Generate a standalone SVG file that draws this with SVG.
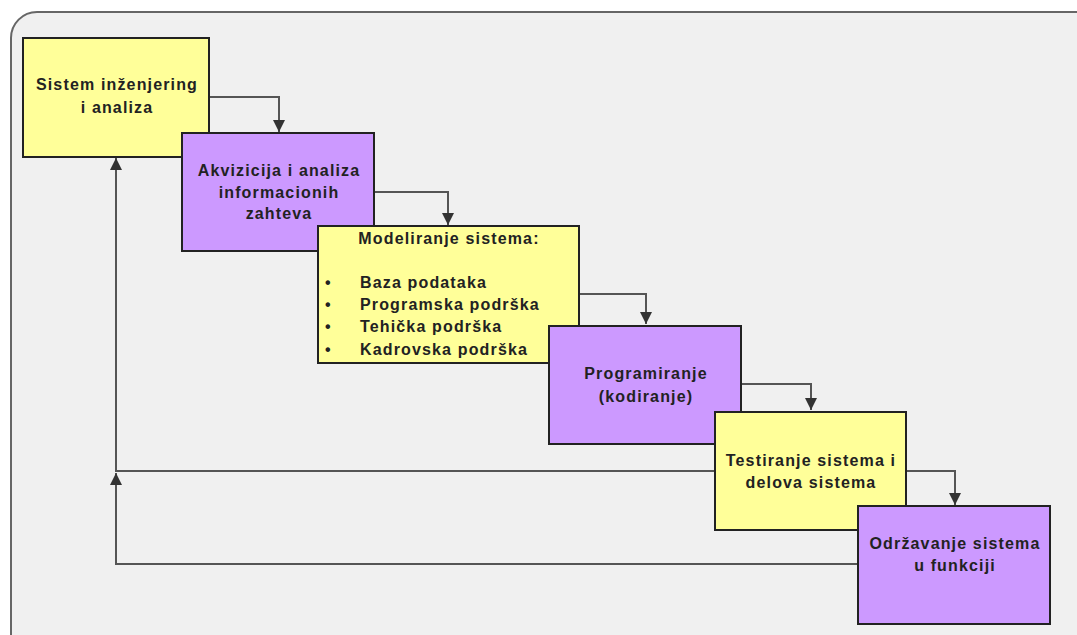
<svg xmlns="http://www.w3.org/2000/svg" width="1077" height="635" viewBox="0 0 1077 635">
  <style>
    .frame { fill: #f0f0f0; stroke: #666666; stroke-width: 2; }
    .yellow { fill: #ffff99; stroke: #222222; stroke-width: 2; }
    .purple { fill: #cc99ff; stroke: #222222; stroke-width: 2; }
    .lbl { font-family: "Liberation Sans", Arial, sans-serif; font-weight: bold; font-size: 16px; letter-spacing: 1.15px; fill: #222222; }
    .mid { text-anchor: middle; }
    .wire { fill: none; stroke: #555555; stroke-width: 2; }
  </style>
  <defs>
    <marker id="arrow" viewBox="0 0 10 10" refX="10" refY="5" markerWidth="12" markerHeight="12" markerUnits="userSpaceOnUse" orient="auto">
      <path d="M0,0 L10,5 L0,10 z" fill="#333333"/>
    </marker>
  </defs>

  <!-- background panel -->
  <rect class="frame" x="11" y="12" width="1090" height="650" rx="26"/>

  <!-- connectors -->
  <g id="connectors">
    <path class="wire" d="M209,97 H279 V132" marker-end="url(#arrow)"/>
    <path class="wire" d="M374,192 H448 V225" marker-end="url(#arrow)"/>
    <path class="wire" d="M579,294 H646 V324" marker-end="url(#arrow)"/>
    <path class="wire" d="M741,384 H811 V410" marker-end="url(#arrow)"/>
    <path class="wire" d="M906,471 H955 V505" marker-end="url(#arrow)"/>
    <path class="wire" d="M715,471 H116 V158" marker-end="url(#arrow)"/>
    <path class="wire" d="M858,564 H116 V473" marker-end="url(#arrow)"/>
  </g>

  <g id="n1">
    <rect class="yellow" x="23" y="38" width="186" height="119"/>
    <text class="lbl mid" x="117" y="90">Sistem inženjering</text>
    <text class="lbl mid" x="117" y="113">i analiza</text>
  </g>

  <g id="n2">
    <rect class="purple" x="182" y="133" width="192" height="118"/>
    <text class="lbl mid" x="279" y="176">Akvizicija i analiza</text>
    <text class="lbl mid" x="279" y="198">informacionih</text>
    <text class="lbl mid" x="279" y="219">zahteva</text>
  </g>

  <g id="n3">
    <rect class="yellow" x="318" y="226" width="261" height="137"/>
    <text class="lbl mid" x="449" y="244">Modeliranje sistema:</text>
    <text class="lbl" x="325" y="288">•</text>
    <text class="lbl" x="360" y="288">Baza podataka</text>
    <text class="lbl" x="325" y="310">•</text>
    <text class="lbl" x="360" y="310">Programska podrška</text>
    <text class="lbl" x="325" y="332">•</text>
    <text class="lbl" x="360" y="332">Tehička podrška</text>
    <text class="lbl" x="325" y="355">•</text>
    <text class="lbl" x="360" y="355">Kadrovska podrška</text>
  </g>

  <g id="n4">
    <rect class="purple" x="549" y="326" width="192" height="118"/>
    <text class="lbl mid" x="646" y="379">Programiranje</text>
    <text class="lbl mid" x="646" y="402">(kodiranje)</text>
  </g>

  <g id="n5">
    <rect class="yellow" x="715" y="412" width="191" height="118"/>
    <text class="lbl mid" x="811" y="466">Testiranje sistema i</text>
    <text class="lbl mid" x="811" y="488">delova sistema</text>
  </g>

  <g id="n6">
    <rect class="purple" x="858" y="506" width="192" height="118"/>
    <text class="lbl mid" x="955" y="549">Održavanje sistema</text>
    <text class="lbl mid" x="955" y="571">u funkciji</text>
  </g>
</svg>
